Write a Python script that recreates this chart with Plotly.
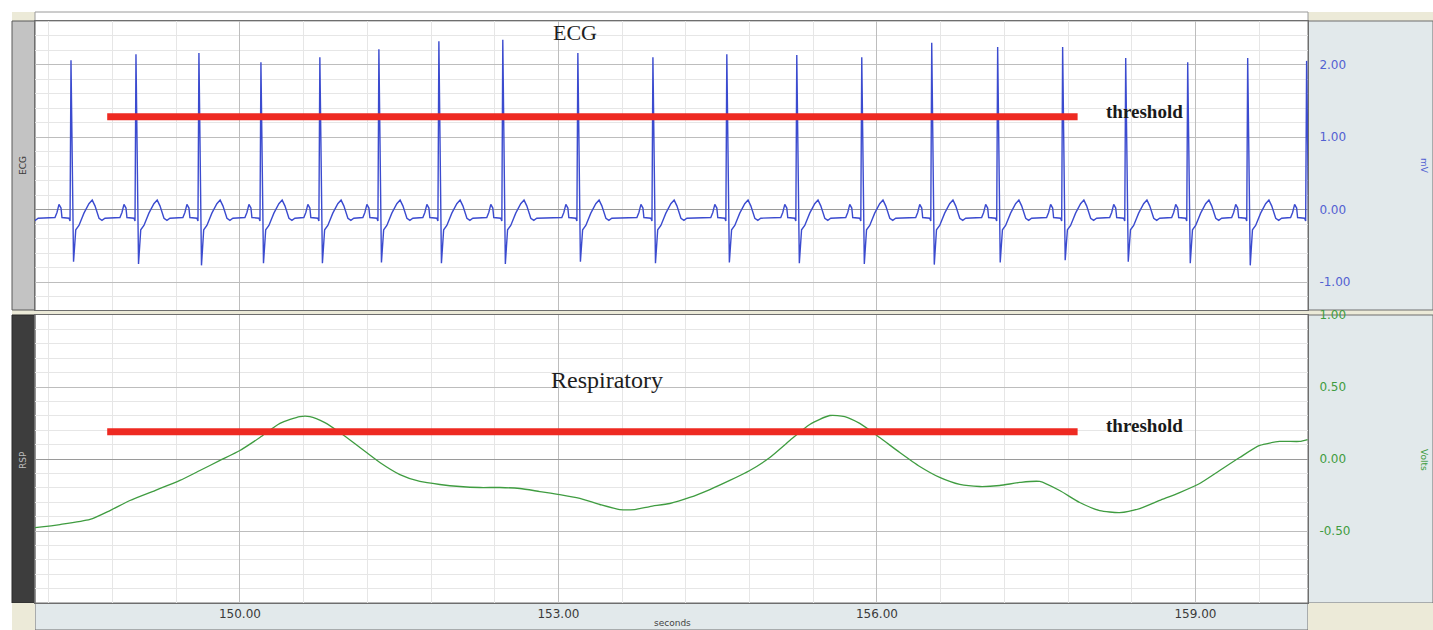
import plotly.graph_objects as go

# ---------------- data ----------------
# R-peak times (s) and amplitudes (mV) of each heartbeat in the ECG channel
ECG_BEAT_TIMES = [147.78, 148.409, 149.021, 149.614, 150.198, 150.753, 151.309,
                  151.874, 152.476, 153.183, 153.890, 154.586, 155.245, 155.857,
                  156.516, 157.137, 157.749, 158.343, 158.927, 159.492, 160.047]
ECG_R_MV = [2.10, 2.06, 2.14, 2.16, 2.03, 2.10, 2.21, 2.32, 2.34, 2.16, 2.10,
            2.14, 2.13, 2.10, 2.30, 2.24, 2.24, 2.09, 2.03, 2.09, 2.05]
ECG_S_MV = [-0.74, -0.72, -0.75, -0.77, -0.74, -0.74, -0.73, -0.74, -0.75, -0.72,
            -0.74, -0.73, -0.74, -0.75, -0.76, -0.73, -0.70, -0.72, -0.74, -0.77, -0.74]

# shape of one P-QRS-T complex: offsets from the R peak (s) and levels (mV)
BEAT_DT = [-0.151, -0.132, -0.113, -0.094, -0.085, -0.019, -0.009, 0.0, 0.024,
           0.045, 0.075, 0.122, 0.169, 0.200, 0.226, 0.264, 0.292, 0.320]
BEAT_MV = [-0.11, -0.04, 0.07, 0.02, -0.11, -0.12, -0.16, "R", "S",
           -0.28, -0.22, -0.05, 0.08, 0.13, 0.05, -0.12, -0.15, -0.12]

# respiratory belt signal (s, V)
RSP_T = [148.070, 148.305, 148.588, 148.776, 148.964, 149.200, 149.435, 149.623,
         149.812, 150.000, 150.188, 150.377, 150.565, 150.659, 150.800, 150.942,
         151.130, 151.318, 151.507, 151.695, 151.883, 152.072, 152.260, 152.448,
         152.637, 152.825, 153.013, 153.202, 153.390, 153.578, 153.719, 153.861,
         154.049, 154.237, 154.426, 154.614, 154.802, 154.991, 155.179, 155.367,
         155.556, 155.697, 155.838, 156.026, 156.215, 156.403, 156.591, 156.780,
         156.968, 157.156, 157.345, 157.533, 157.721, 157.910, 158.098, 158.286,
         158.475, 158.663, 158.851, 159.040, 159.228, 159.416, 159.605, 159.793,
         159.981, 160.056]
RSP_V = [-0.476, -0.455, -0.420, -0.358, -0.288, -0.219, -0.149, -0.080,
         -0.010, 0.059, 0.149, 0.247, 0.295, 0.295, 0.253, 0.184,
         0.080, -0.024, -0.108, -0.156, -0.177, -0.191, -0.198, -0.198,
         -0.205, -0.226, -0.247, -0.274, -0.316, -0.351, -0.351, -0.330,
         -0.309, -0.267, -0.212, -0.149, -0.080, 0.010, 0.128, 0.240,
         0.302, 0.295, 0.247, 0.149, 0.045, -0.052, -0.128, -0.177,
         -0.191, -0.184, -0.163, -0.156, -0.219, -0.302, -0.358, -0.372,
         -0.344, -0.288, -0.233, -0.170, -0.080, 0.010, 0.094, 0.122,
         0.122, 0.135]

# detection thresholds and the time span they are drawn over
THRESHOLD_T = [148.75, 157.89]
ECG_THRESHOLD_MV = 1.28
RSP_THRESHOLD_V = 0.19

# axis ticks
TIME_TICKS = [150, 153, 156, 159]
ECG_TICKS = [-1, 0, 1, 2]
RSP_TICKS = [-0.5, 0, 0.5, 1.0]

# ---------------- build ECG trace from beats ----------------
ecg_t, ecg_v = [], []
for tb, r_mv, s_mv in zip(ECG_BEAT_TIMES, ECG_R_MV, ECG_S_MV):
    for dt, lvl in zip(BEAT_DT, BEAT_MV):
        ecg_t.append(tb + dt)
        ecg_v.append(r_mv if lvl == "R" else s_mv if lvl == "S" else lvl)

# ---------------- geometry ----------------
W, H = 1433, 630
X0, X1 = 35, 1308          # plot area left/right (px)
ECG_TOP, ECG_BOT = 21, 310
RSP_TOP, RSP_BOT = 315, 603


def fx(p):
    return p / W


def fy(p):
    return 1 - p / H


fig = go.Figure()

fig.add_trace(go.Scatter(x=ecg_t, y=ecg_v, mode="lines", xaxis="x2", yaxis="y2",
                         line=dict(color="#3b4bcf", width=1.4), hoverinfo="skip"))
fig.add_trace(go.Scatter(x=THRESHOLD_T, y=[ECG_THRESHOLD_MV] * 2, mode="lines",
                         xaxis="x2", yaxis="y2",
                         line=dict(color="#ee2a22", width=7), hoverinfo="skip"))
fig.add_trace(go.Scatter(x=RSP_T, y=RSP_V, mode="lines", xaxis="x", yaxis="y",
                         line=dict(color="#3f9c40", width=1.3, shape="spline",
                                   smoothing=0.6), hoverinfo="skip"))
fig.add_trace(go.Scatter(x=THRESHOLD_T, y=[RSP_THRESHOLD_V] * 2, mode="lines",
                         xaxis="x", yaxis="y",
                         line=dict(color="#ee2a22", width=7), hoverinfo="skip"))

xr = [148.07, 160.06]
grid_major = "#bdbdbd"
grid_minor = "#e6e6e6"

common_x = dict(range=xr, domain=[fx(X0), fx(X1)], showgrid=True, gridcolor=grid_major,
                gridwidth=1, tick0=150, dtick=3, zeroline=False, automargin=False,
                minor=dict(showgrid=True, gridcolor=grid_minor, tick0=150, dtick=0.6),
                showline=True, linecolor="#6e6e6e", linewidth=1, mirror=True)

fig.update_layout(
    width=W, height=H,
    margin=dict(l=0, r=0, t=0, b=0, pad=0, autoexpand=False),
    paper_bgcolor="white", plot_bgcolor="white", showlegend=False,
    xaxis=dict(common_x, anchor="y", tickmode="array", tickvals=TIME_TICKS,
               ticktext=[f"{v:.2f}" for v in TIME_TICKS], ticks="",
               tickfont=dict(family="DejaVu Sans", size=12, color="#3a3a3a")),
    xaxis2=dict(common_x, anchor="y2", matches="x", showticklabels=False, ticks=""),
    yaxis=dict(domain=[fy(RSP_BOT), fy(RSP_TOP)], range=[-1.0, 1.0], side="right",
               anchor="x", tickmode="array", tickvals=RSP_TICKS, automargin=False,
               ticktext=[f"{v:.2f}" for v in RSP_TICKS], ticks="",
               ticklabelstandoff=8,
               tickfont=dict(family="DejaVu Sans", size=12, color="#3f9c40"),
               showgrid=True, gridcolor=grid_major, zeroline=True,
               zerolinecolor="#9a9a9a", zerolinewidth=1,
               minor=dict(showgrid=True, gridcolor=grid_minor, dtick=0.1, tick0=0),
               showline=True, linecolor="#6e6e6e", linewidth=1, mirror=True),
    yaxis2=dict(domain=[fy(ECG_BOT), fy(ECG_TOP)], range=[-1.386, 2.60], side="right",
                anchor="x2", tickmode="array", tickvals=ECG_TICKS, automargin=False,
                ticktext=[f"{v:.2f}" for v in ECG_TICKS], ticks="",
                ticklabelstandoff=8,
                tickfont=dict(family="DejaVu Sans", size=12, color="#5261d2"),
                showgrid=True, gridcolor=grid_major, zeroline=True,
                zerolinecolor="#9a9a9a", zerolinewidth=1,
                minor=dict(showgrid=True, gridcolor=grid_minor, dtick=0.2, tick0=0),
                showline=True, linecolor="#6e6e6e", linewidth=1, mirror=True),
)

# ---------------- window chrome around the plots ----------------
cream = "#ecead8"
panel = "#e2e9eb"


def rect(x0, y0, x1, y1, fill, line=None, layer="below"):
    fig.add_shape(type="rect", xref="paper", yref="paper",
                  x0=fx(x0), x1=fx(x1), y0=fy(y1), y1=fy(y0),
                  fillcolor=fill, layer=layer,
                  line=dict(color=line or fill, width=1 if line else 0))


rect(12, 12, 35, 21, cream)
rect(X1, 12, W, 21, cream)
rect(X0, 12, X1, 21, "white", "#9a9a9a")
rect(12, ECG_BOT, W, RSP_TOP, cream)
rect(12, ECG_TOP, X0, ECG_BOT, "#c3c3c3", "#5a5a5a")
rect(12, RSP_TOP, X0, RSP_BOT, "#3d3d3d", "#2a2a2a")
rect(X1, ECG_TOP, W, ECG_BOT, panel, "#6e6e6e")
rect(X1, RSP_TOP, W, RSP_BOT, panel, "#6e6e6e")
rect(X0, RSP_BOT, X1, H, panel, "#6e6e6e")
rect(12, RSP_BOT, X0, H, cream)
rect(X1, RSP_BOT, W, H, cream)


def label(x, y, text, size, color, family="Liberation Serif", angle=0,
          bold=False, xanchor="center"):
    fig.add_annotation(xref="paper", yref="paper", x=fx(x), y=fy(y),
                       text=f"<b>{text}</b>" if bold else text, showarrow=False,
                       textangle=angle, xanchor=xanchor, yanchor="middle",
                       font=dict(family=family, size=size, color=color))


label(575, 32, "ECG", 22, "#1e1e1e")
label(607, 380, "Respiratory", 24, "#1e1e1e")
label(1104, 111, "threshold", 19, "#1a1a1a", bold=True, xanchor="left")
label(1104, 425, "threshold", 19, "#1a1a1a", bold=True, xanchor="left")
label(672, 623, "seconds", 9, "#444444", family="DejaVu Sans")
label(23, 166, "ECG", 9, "#3a3a3a", family="DejaVu Sans", angle=-90)
label(23, 460, "RSP", 9, "#bdbdbd", family="DejaVu Sans", angle=-90)
label(1424, 166, "mV", 9, "#5261d2", family="DejaVu Sans", angle=90)
label(1424, 460, "Volts", 9, "#3f9c40", family="DejaVu Sans", angle=90)

fig.write_html("out.html")
